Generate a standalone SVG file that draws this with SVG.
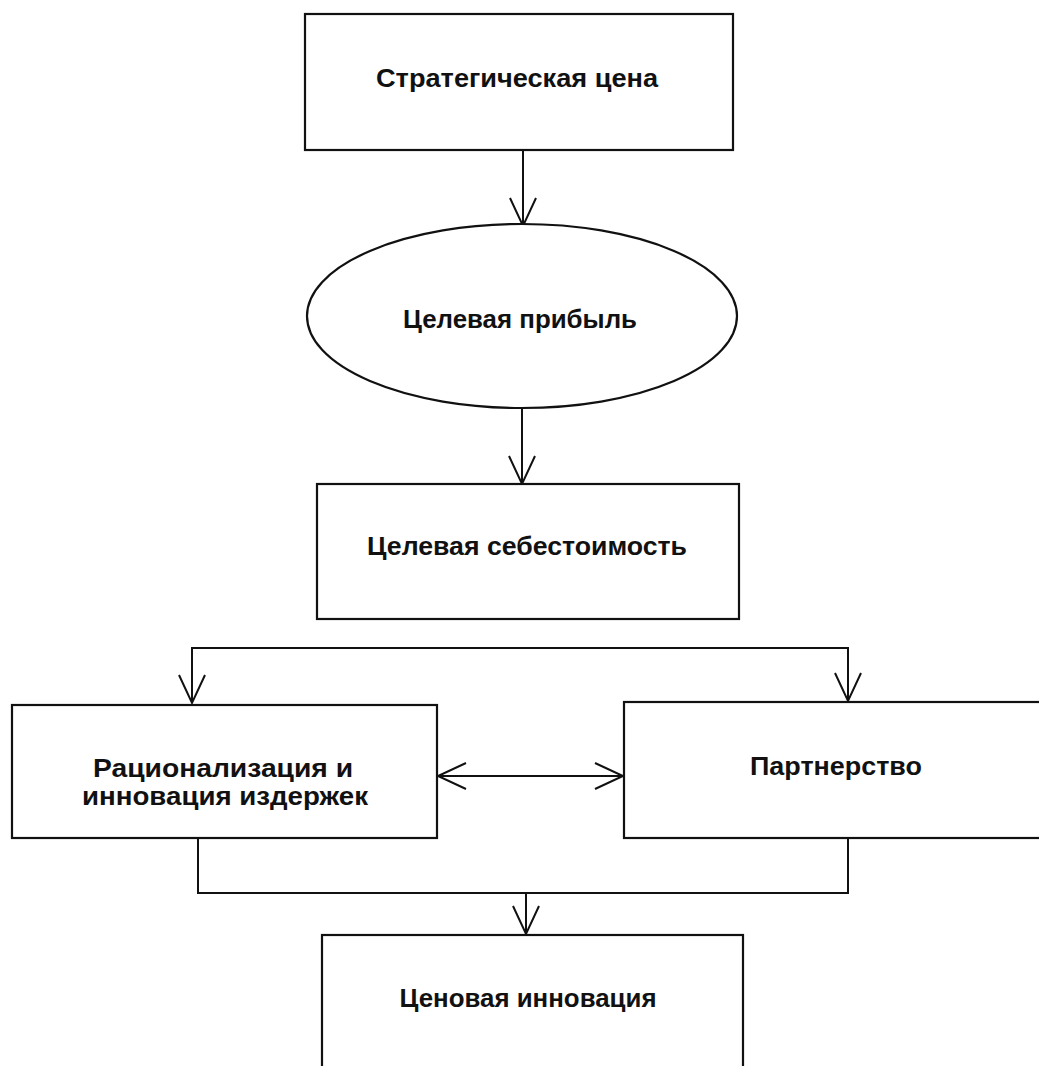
<svg xmlns="http://www.w3.org/2000/svg" width="1039" height="1066" viewBox="0 0 1039 1066">
<style>
.box{fill:#fff;stroke:#111;stroke-width:2.2}
.lbl{font-family:"Liberation Sans",Arial,sans-serif;font-weight:bold;font-size:25px;fill:#111;text-anchor:middle}
.con{fill:none;stroke:#111;stroke-width:2}
</style>
<defs>
<marker id="v" markerUnits="userSpaceOnUse" markerWidth="34" markerHeight="34" refX="30" refY="14" orient="auto-start-reverse" viewBox="0 0 34 28">
<polyline points="2,1 30,14 2,27" fill="none" stroke="#111" stroke-width="2"/>
</marker>
</defs>
<g id="connectors">
<line class="con" x1="523" y1="150" x2="523" y2="226" marker-end="url(#v)"/>
<line class="con" x1="522" y1="408" x2="522" y2="484" marker-end="url(#v)"/>
<polyline class="con" points="192,703 192,648 848,648 848,701" marker-end="url(#v)"/>
<line class="con" x1="192" y1="648" x2="192" y2="703" marker-end="url(#v)"/>
<line class="con" x1="438" y1="776" x2="623" y2="776" marker-start="url(#v)" marker-end="url(#v)"/>
<polyline class="con" points="198,838 198,893 848,893 848,838"/>
<line class="con" x1="526" y1="893" x2="526" y2="934" marker-end="url(#v)"/>
</g>
<g id="n1"><rect class="box" x="305" y="14" width="428" height="136"/><text class="lbl" x="517" y="87" textLength="282" lengthAdjust="spacingAndGlyphs">Стратегическая цена</text></g>
<g id="n2"><ellipse class="box" cx="522" cy="316" rx="215" ry="92"/><text class="lbl" x="520" y="328" textLength="234" lengthAdjust="spacingAndGlyphs">Целевая прибыль</text></g>
<g id="n3"><rect class="box" x="317" y="484" width="422" height="135"/><text class="lbl" x="527" y="555" textLength="320" lengthAdjust="spacingAndGlyphs">Целевая себестоимость</text></g>
<g id="n4"><rect class="box" x="12" y="705" width="425" height="133"/><text class="lbl" x="223" y="777" textLength="260" lengthAdjust="spacingAndGlyphs">Рационализация и</text><text class="lbl" x="225" y="805" textLength="286" lengthAdjust="spacingAndGlyphs">инновация издержек</text></g>
<g id="n5"><rect class="box" x="624" y="702" width="430" height="136"/><text class="lbl" x="836" y="775" textLength="172" lengthAdjust="spacingAndGlyphs">Партнерство</text></g>
<g id="n6"><rect class="box" x="322" y="935" width="421" height="150"/><text class="lbl" x="528" y="1007" textLength="257" lengthAdjust="spacingAndGlyphs">Ценовая инновация</text></g>
</svg>
